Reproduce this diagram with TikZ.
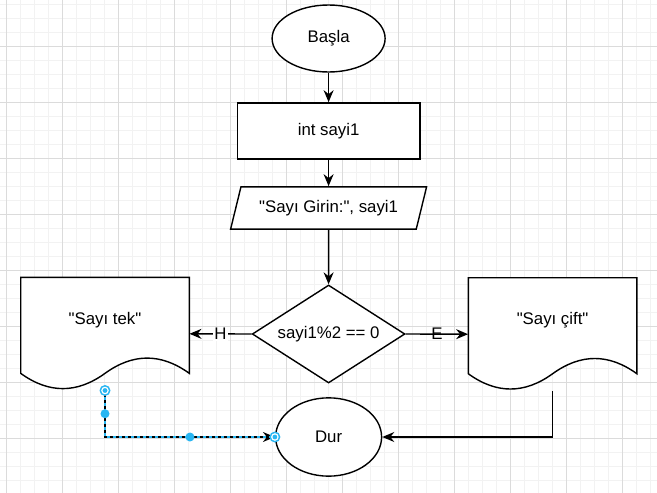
\documentclass[tikz,border=0pt]{standalone}
\usepackage{fontspec}
\setmainfont{Liberation Sans}[Ligatures=TeXOff]
\usetikzlibrary{shapes.geometric,arrows.meta,calc}
\definecolor{selblue}{RGB}{41,182,242}
\begin{document}
\begin{tikzpicture}[x=1pt,y=-1pt,
  font=\fontsize{16.8}{20}\selectfont,
  gridminor/.style={draw=black!5, line width=1pt},
  gridmajor/.style={draw=black!14, line width=1pt},
  shp/.style={draw=black, fill=white, line width=1.4pt, inner sep=0pt},
  arr/.style={-{Stealth[length=12pt,width=10pt,inset=4pt]}, line width=1.4pt},
  docpath/.pic={
    \draw[shp] (0,0) -- (168.6,0) -- (168.6,96.05)
      .. controls (140.5,75.7) and (112.4,75.7) .. (84.3,96.05)
      .. controls (56.2,116.4) and (28.1,116.4) .. (0,96.05) -- cycle;
  }]
\fill[white] (0,0) rectangle (657,493);
\useasboundingbox (0,0) rectangle (657,493);
% grid
\foreach \x in {6,20,...,657} \draw[gridminor] (\x,0) -- (\x,493);
\foreach \y in {4,18,...,493} \draw[gridminor] (0,\y) -- (657,\y);
\foreach \x in {6,62,...,657} \draw[gridmajor] (\x,0) -- (\x,493);
\foreach \y in {46,102,...,493} \draw[gridmajor] (0,\y) -- (657,\y);

% nodes
\node[shp, ellipse, minimum width=113pt, minimum height=67pt] (start) at (328.6,38.5) {Başla};
\node[shp, rectangle, minimum width=182.7pt, minimum height=56.3pt] (decl) at (328.6,131) {int sayi1};
\node[shp, trapezium, trapezium left angle=56.5, trapezium right angle=123.5,
      trapezium stretches body, minimum width=196pt, minimum height=42.3pt] (input) at (328.6,208) {"Sayı Girin:", sayi1};
\node[shp, diamond, aspect=1.55, minimum width=152.7pt, minimum height=98pt] (cond) at (328.6,334) {sayi1\%2 == 0};
\node[shp, ellipse, minimum width=106pt, minimum height=78.3pt] (stop) at (328.6,437) {Dur};

% documents
\pic at (20.7,277.3) {docpath};
\node[minimum width=168.6pt, minimum height=113pt, inner sep=0pt] (tek) at (105,333.8) {};
\node (tektxt) at (105,320) {"Sayı tek"};
\pic at (468.3,277.7) {docpath};
\node[minimum width=168.6pt, minimum height=113pt, inner sep=0pt] (cift) at (552.6,334.2) {};
\node (cifttxt) at (552.6,320) {"Sayı çift"};

% connectors
\draw[arr] (start) -- (decl);
\draw[arr] (decl) -- (input);
\draw[arr] (input) -- (cond);
\draw[arr] (cond.west) -- node[fill=white, inner sep=1pt] {H} (tek.east);
\draw[arr] (cond.east) -- node[inner sep=1pt] {E} (cift.west);
\draw[arr] (cift.south) |- (stop.east);

% selected connector
\draw[arr] (tek.south) |- (stop.west);
\draw[selblue, line width=1.4pt, dash pattern=on 3pt off 3pt] (tek.south) |- ([xshift=-6pt]stop.west);
\coordinate (bend) at (tek.south |- stop.west);
\coordinate (m1) at ($(tek.south)!0.5!(bend)$);
\coordinate (m2) at ($(bend)!0.5!(stop.west)$);
\fill[selblue] (m1) circle (4.5pt);
\fill[selblue] (m2) circle (4.5pt);
\foreach \p in {tek.south, stop.west} {
  \fill[selblue] (\p) circle (5.5pt);
  \fill[white] (\p) circle (3.8pt);
  \fill[selblue] (\p) circle (2.4pt);
}
\end{tikzpicture}
\end{document}
